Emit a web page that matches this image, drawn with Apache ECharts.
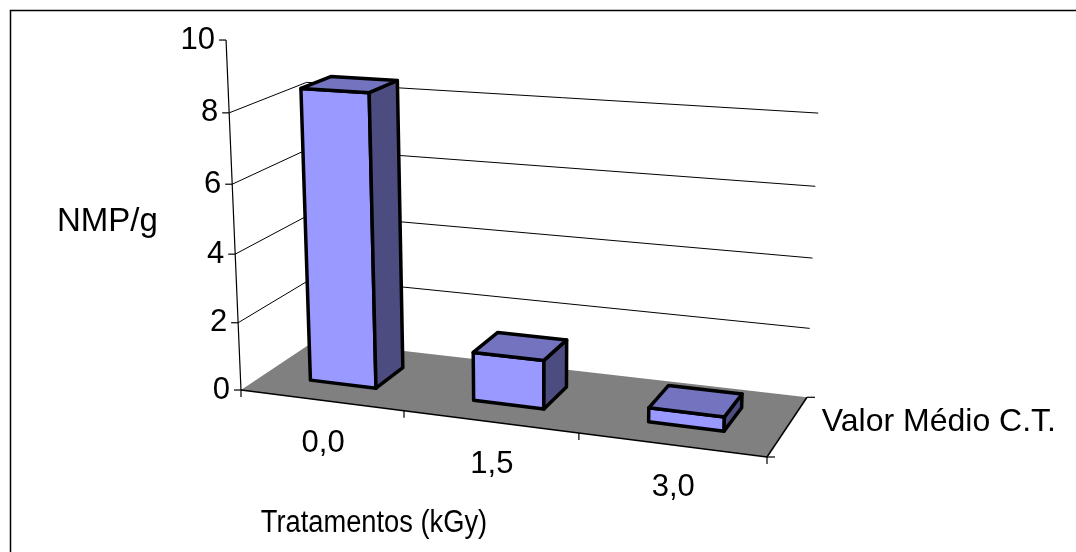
<!DOCTYPE html>
<html>
<head>
<meta charset="utf-8">
<script src="https://cdn.jsdelivr.net/npm/echarts@6/dist/echarts.min.js"></script>
<style>
  html, body { margin: 0; padding: 0; background: #fff; }
  #chart { width: 1076px; height: 552px; }
</style>
</head>
<body>
<div id="chart"></div>
<script>
// data
const categories = ['0,0', '1,5', '3,0'];
const seriesName = 'Valor Médio C.T.';
const values = [8.5, 1.4, 0.4];
const valueTicks = [0, 2, 4, 6, 8, 10];
const gridLevels = [2, 4, 6, 8];
const Y_MAX = 10;

// perspective camera of the 3d box (world X: categories, Y: value, Z: series depth)
const CAM = {
  o: [241, 390],
  u: [149.27, -2.589, 98.15],
  v: [6.8, -35.19, -22.98],
  w: [-0.03398, -0.00484, 0.0771]
};
function project(X, Y, Z) {
  const d = 1 + CAM.w[0] * X + CAM.w[1] * Y + CAM.w[2] * Z;
  return [
    (CAM.o[0] + CAM.u[0] * X + CAM.u[1] * Y + CAM.u[2] * Z) / d,
    (CAM.o[1] + CAM.v[0] * X + CAM.v[1] * Y + CAM.v[2] * Z) / d
  ];
}
// pixel of the hidden flat grid -> world units
function toWorld(params, api, cat, val) {
  const cs = params.coordSys;
  const pt = api.coord([cat, val]);
  return [
    (pt[0] - cs.x) / cs.width * categories.length,
    (cs.y + cs.height - pt[1]) / cs.height * Y_MAX
  ];
}

const FAMILY = '"Liberation Sans", Arial, sans-serif';
const FONT = '31px ' + FAMILY;
const NX = categories.length;
const BAR_W = 0.41, Z0 = 0.3, Z1 = 0.7;

function txt(x, y, text, align, font) {
  return {
    type: 'text', x: x, y: y,
    style: { text: text, fill: '#000', font: font || FONT, align: align, verticalAlign: 'middle',
             textAlign: align, textVerticalAlign: 'middle' }
  };
}
function line(a, b, w) {
  return { type: 'line', shape: { x1: a[0], y1: a[1], x2: b[0], y2: b[1] },
           style: { stroke: '#000', lineWidth: w || 1 } };
}

function renderFloor(params, api) {
  const p00 = project(0, 0, 0), p30 = project(NX, 0, 0), p31 = project(NX, 0, 1), p01 = project(0, 0, 1);
  const kids = [
    { type: 'polygon', shape: { points: [p00, p30, p31, p01] }, style: { fill: '#808080' } },
    line(p00, p30, 1.5),
    line(p30, p31, 1.5),
    line(project(0, Y_MAX, 0), p00, 1.2),
    line(p30, [p30[0] + 8, p30[1]], 1.2),
    line(p31, [p31[0] + 8, p31[1]], 1.2)
  ];
  for (let i = 0; i <= NX; i++) {
    const p = project(i, 0, 0);
    kids.push(line(p, [p[0], p[1] + 7], 1.2));
  }
  // series label
  const pm = project(NX, 0, 0.5);
  kids.push(txt(pm[0] + 34, pm[1] - 4, seriesName, 'left', '32px ' + FAMILY));
  return { type: 'group', children: kids };
}

function renderGrid(params, api) {
  const Y = toWorld(params, api, 0, api.value(1))[1];
  return {
    type: 'polyline',
    shape: { points: [project(0, Y, 0), project(0, Y, 1), project(NX, Y, 1)] },
    style: { stroke: '#000', lineWidth: 1, fill: null }
  };
}

function renderYTick(params, api) {
  const val = api.value(1);
  const Y = toWorld(params, api, 0, val)[1];
  const p = project(0, Y, 0);
  return { type: 'group', children: [
    line([p[0] - 7, p[1]], p, 1.2),
    txt(p[0] - 11, p[1], String(val), 'right')
  ] };
}

function renderBar(params, api) {
  const w = toWorld(params, api, api.value(0), api.value(1));
  const xl = w[0] - BAR_W / 2, xr = w[0] + BAR_W / 2, h = w[1];
  const edge = { stroke: '#000', lineWidth: 3.5, lineJoin: 'round' };
  const face = (pts, fill) => ({ type: 'polygon', shape: { points: pts }, style: Object.assign({ fill: fill }, edge) });
  return { type: 'group', children: [
    face([project(xl, 0, Z0), project(xr, 0, Z0), project(xr, h, Z0), project(xl, h, Z0)], '#9999FF'),
    face([project(xr, 0, Z0), project(xr, 0, Z1), project(xr, h, Z1), project(xr, h, Z0)], '#4C4C80'),
    face([project(xl, h, Z0), project(xr, h, Z0), project(xr, h, Z1), project(xl, h, Z1)], '#7373BF')
  ] };
}

function renderCatLabel(params, api) {
  const X = toWorld(params, api, api.value(0), 0)[0];
  const p = project(X, 0, 0);
  return txt(p[0] + 2, p[1] + 43, categories[params.dataIndex], 'center');
}

const chart = echarts.init(document.getElementById('chart'), null, { renderer: 'canvas' });
chart.setOption({
  animation: false,
  backgroundColor: '#fff',
  grid: { left: 0, right: 0, top: 0, bottom: 0, show: false },
  xAxis: { type: 'category', data: categories, show: false },
  yAxis: { type: 'value', min: 0, max: Y_MAX, interval: 2, show: false },
  graphic: [
    { type: 'polyline', shape: { points: [[10.5, 560], [10.5, 10.5], [1090, 10.5]] },
      style: { stroke: '#000', lineWidth: 1.5, fill: null }, silent: true },
    { type: 'text', x: 57, y: 222, style: { text: 'NMP/g', fill: '#000', font: '33px ' + FAMILY, align: 'left', verticalAlign: 'middle' } },
    { type: 'text', x: 374, y: 523, scaleX: 0.88,
      style: { text: 'Tratamentos (kGy)', fill: '#000', font: FONT, align: 'center', verticalAlign: 'middle' } }
  ],
  series: [
    { type: 'custom', z: 1, silent: true, data: [[0, 0]], renderItem: renderFloor },
    { type: 'custom', z: 2, silent: true, data: gridLevels.map(v => [0, v]), renderItem: renderGrid },
    { type: 'custom', z: 3, silent: true, data: valueTicks.map(v => [0, v]), renderItem: renderYTick },
    { type: 'custom', z: 4, silent: true, name: seriesName, data: values.map((v, i) => [i, v]), renderItem: renderBar },
    { type: 'custom', z: 5, silent: true, data: categories.map((c, i) => [i, 0]), renderItem: renderCatLabel }
  ]
});
</script>
</body>
</html>
